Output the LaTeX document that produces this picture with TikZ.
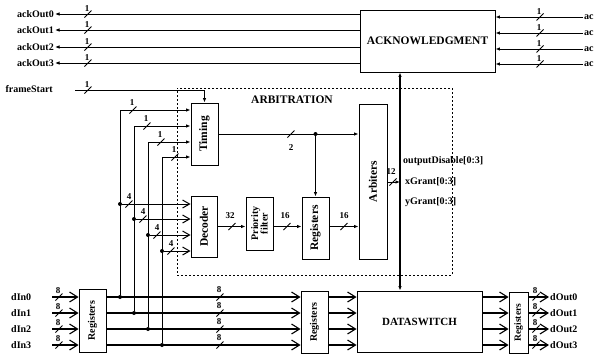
\documentclass[tikz,border=0pt]{standalone}
\usepackage{fontspec}
\setmainfont{Liberation Serif}
\usetikzlibrary{arrows.meta}
\begin{document}
\begin{tikzpicture}[x=1pt,y=-1pt,
  box/.style={draw, line width=0.9pt, inner sep=0pt},
  boxtxt/.style={font=\bfseries\fontsize{11.5}{10}\selectfont, inner sep=0pt, align=center},
  bigtxt/.style={font=\bfseries\fontsize{11.5}{11}\selectfont, inner sep=0pt},
  lbl/.style={font=\bfseries\fontsize{10}{10}\selectfont, inner sep=1pt},
  num/.style={font=\bfseries\fontsize{9}{9}\selectfont, inner sep=0.5pt},
  wire/.style={line width=0.9pt},
  sarr/.style={-{Latex[length=4.5pt,width=3.5pt]}},
  bus/.style={line width=1.2pt, -{Straight Barb[length=8pt,width=10pt,line width=1.1pt]}},
  dbus/.style={line width=0.9pt, -{Straight Barb[length=7pt,width=8pt,line width=1pt]}},
  dot/.style={circle, fill, inner sep=0pt, minimum size=4pt},
  slashmark/.pic={\draw[line width=0.8pt] (-3.5,3.5) -- (3.5,-3.5);}
]
\path[fill=white] (0,0) rectangle (602,354);
\useasboundingbox (0,0) rectangle (602,354);

% ---------- boxes ----------
\node[box, minimum width=135pt, minimum height=62pt] (ack) at (427.5,41) {};
\node[bigtxt] (ackt) at (ack) {ACKNOWLEDGMENT};
\node[draw, dash pattern=on 2pt off 2pt, line width=0.7pt, minimum width=275pt, minimum height=187pt, inner sep=0pt] (arbbox) at (314.5,181.5) {};
\node[bigtxt] (arbt) at (292,100) {ARBITRATION};
\node[box, minimum width=27pt, minimum height=62pt] (timing) at (204.5,134) {};
\node[boxtxt, rotate=90] (timingt) at (timing) {Timing};
\node[box, minimum width=26pt, minimum height=61pt] (dec) at (204,226.5) {};
\node[boxtxt, rotate=90] (dect) at (dec) {Decoder};
\node[box, minimum width=27pt, minimum height=53pt] (pf) at (259.5,223.5) {};
\node[boxtxt, rotate=90, font=\bfseries\fontsize{10}{9.5}\selectfont] (pft) at (pf) {Priority\\filter};
\node[box, minimum width=27pt, minimum height=62pt] (reg) at (315.5,228) {};
\node[boxtxt, rotate=90] (regt) at (reg) {Registers};
\node[box, minimum width=28pt, minimum height=155pt] (arb) at (373,181.5) {};
\node[boxtxt, rotate=90] (arbtx) at (arb) {Arbiters};
\node[box, minimum width=27pt, minimum height=63pt] (inreg) at (92.5,320.5) {};
\node[boxtxt, rotate=90, font=\bfseries\fontsize{10}{10}\selectfont] (inregt) at (inreg) {Registers};
\node[box, minimum width=27pt, minimum height=62pt] (midreg) at (314.5,322) {};
\node[boxtxt, rotate=90, font=\bfseries\fontsize{10}{10}\selectfont] (midregt) at (midreg) {Registers};
\node[box, minimum width=125pt, minimum height=61pt] (ds) at (419.5,321.5) {};
\node[bigtxt, font=\bfseries\fontsize{11}{11}\selectfont] (dst) at (ds) {DATASWITCH};
\node[box, minimum width=19pt, minimum height=61pt] (outreg) at (518.5,322.5) {};
\node[boxtxt, rotate=90, font=\bfseries\fontsize{9.5}{9.5}\selectfont] (outregt) at (outreg) {Registers};

% ---------- acknowledge lines ----------
\foreach \i/\y in {0/14,1/30,2/47,3/63} {
  \node[lbl,anchor=east] (ao\i) at (55,\y) {ackOut\i};
  \draw[wire,{Latex[length=4.5pt,width=3.5pt]}-] (ao\i.east) -- (ao\i.east -| ack.west);
  \pic at (88,\y) {slashmark};
  \node[num] (aon\i) at (87,\y-5) {1};
}
\foreach \i/\y in {0/17,1/33,2/49,3/64} {
  \node[lbl,anchor=west] (ai\i) at (583,\y) {ac};
  \draw[wire,sarr] (ai\i.west) -- (ai\i.west -| ack.east);
  \pic at (540,\y) {slashmark};
  \node[num] (ain\i) at (539,\y-5) {1};
}

% ---------- frameStart ----------
\node[lbl,anchor=east] (fs) at (54,89) {frameStart};
\coordinate (fss) at (75,90);
\draw[wire,sarr] (fss) -| (timing.north);
\pic at (88,90) {slashmark};
\node[num] (fsn) at (87,85) {1};

% ---------- taps from data inputs ----------
\foreach \i/\x/\ty/\dy/\by in {1/120/110/204/297, 2/134/126/219/313, 3/148/142/235/329, 4/162/157/251/345} {
  \coordinate (tv\i) at (\x,\ty);
  \node[dot] (dd\i) at (\x,\dy) {};
  \node[dot] (bd\i) at (\x,\by) {};
  \draw[wire] (tv\i) -- (bd\i);
  \draw[wire,sarr] (tv\i) -- (tv\i -| timing.west);
  \draw[dbus] (dd\i) -- (dd\i -| dec.west);
  \pic at (\x+13,\ty) {slashmark};
  \node[num] (tn\i) at (\x+12,\ty-7) {1};
  \pic at (\x+9,\dy) {slashmark};
  \node[num] (dn\i) at (\x+9,\dy-7) {4};
}

% ---------- data path ----------
\foreach \i/\y in {1/297,2/313,3/329,4/345} {
  \pgfmathtruncatemacro{\k}{\i-1}
  \node[lbl,anchor=west] (di\i) at (10,\y) {dIn\k};
  \coordinate (dis\i) at (52,\y);
  \draw[bus] (dis\i) -- (inreg.west |- dis\i);
  \pic at (59,\y) {slashmark};
  \node[num] (din\i) at (58,\y-6) {8};
  \draw[bus] (inreg.east |- bd\i) -- (midreg.west |- bd\i);
  \pic at (220,\y) {slashmark};
  \node[num] (bn\i) at (219,\y-7) {8};
  \draw[bus] (midreg.east |- bd\i) -- (ds.west |- bd\i);
  \draw[bus] (ds.east |- bd\i) -- (outreg.west |- bd\i);
  \node[lbl,anchor=west] (do\i) at (549,\y) {dOut\k};
  \draw[bus] (outreg.east |- do\i) -- (do\i.west);
  \pic at (536,\y) {slashmark};
  \node[num] (don\i) at (535,\y-6) {8};
}

% ---------- arbitration internals ----------
\node[dot] (j) at (reg.north |- timing.east) {};
\draw[wire,sarr] (timing.east) -- (timing.east -| arb.west);
\draw[wire,sarr] (j) -- (reg.north);
\pic at (291,134) {slashmark};
\node[num] (n2) at (291,148) {2};

\draw[wire,sarr] (dec.east) -- (pf.west |- dec.east);
\pic at (232,226.5) {slashmark};
\node[num] (n32) at (230,216) {32};
\draw[wire,sarr] (pf.east |- dec.east) -- (reg.west |- dec.east);
\pic at (287,226.5) {slashmark};
\node[num] (n16a) at (285,216) {16};
\draw[wire,sarr] (reg.east |- dec.east) -- (arb.west |- dec.east);
\pic at (344,226.5) {slashmark};
\node[num] (n16b) at (344,216) {16};

% ---------- grant bus ----------
\coordinate (vx) at (400,0);
\draw[line width=1.1pt,{Latex[length=4.5pt,width=3.5pt]}-{Latex[length=4.5pt,width=3.5pt]}] (vx |- ack.south) -- (vx |- ds.north);
\coordinate (arbout) at (400,182);
\draw[wire,sarr] (arb.east |- arbout) -- (arbout);
\pic at (393,182) {slashmark};
\node[num] (n12) at (391,172) {12};
\node[lbl,anchor=west] (od) at (402,161) {outputDisable[0:3]};
\node[lbl,anchor=west] (xg) at (404,182) {xGrant[0:3]};
\node[lbl,anchor=west] (yg) at (404,202) {yGrant[0:3]};
\end{tikzpicture}
\end{document}
